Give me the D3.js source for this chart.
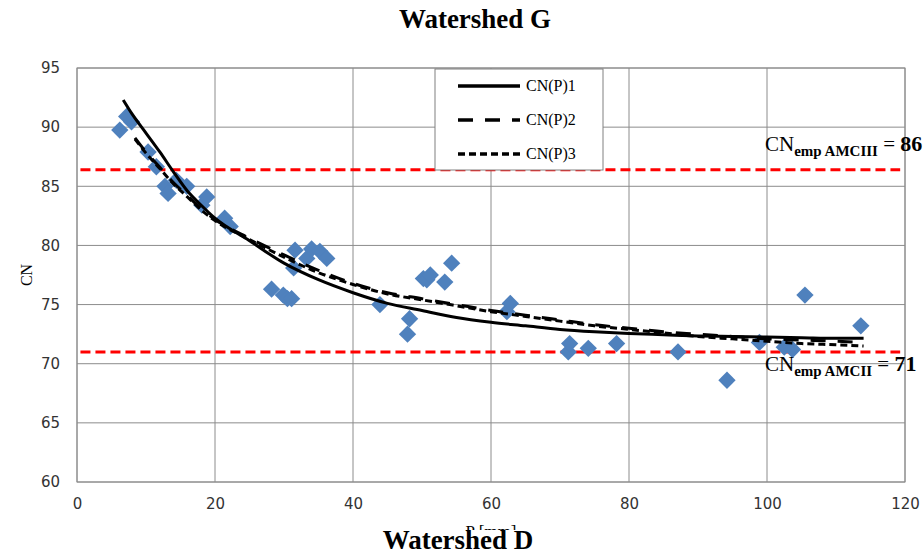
<!DOCTYPE html>
<html>
<head>
<meta charset="utf-8">
<script src="https://cdn.jsdelivr.net/npm/d3@7"></script>
<style>
  body { margin: 0; background: #fff; }
  .tick text { font-family: "DejaVu Sans", sans-serif; font-size: 15px; fill: #333; }
  .serif { font-family: "Liberation Serif", "Times New Roman", serif; }
</style>
</head>
<body>
<svg id="chart" width="924" height="553"></svg>
<script>
// observed points (P in mm, CN)
var obsP  = [6.2, 7.2, 7.9, 10.3, 11.5, 12.75, 13.2, 14.4, 15.9, 18.1, 18.8, 21.4, 22.2,
             28.2, 29.9, 30.5, 31.1, 31.4, 31.6, 33.3, 34.0, 35.2, 36.2, 43.9, 47.9, 48.2,
             50.2, 50.7, 51.2, 53.3, 54.3, 62.3, 62.8, 71.2, 71.4, 74.1, 78.2, 87.1, 94.2,
             98.9, 102.5, 103.7, 105.5, 113.6];
var obsCN = [89.75, 90.9, 90.45, 87.9, 86.65, 85.0, 84.4, 85.5, 85.0, 83.4, 84.1, 82.3, 81.6,
             76.3, 75.8, 75.5, 75.5, 78.1, 79.6, 78.9, 79.7, 79.5, 78.9, 75.0, 72.5, 73.8,
             77.2, 77.1, 77.5, 76.9, 78.5, 74.4, 75.1, 71.0, 71.7, 71.3, 71.7, 71.0, 68.6,
             71.8, 71.4, 71.2, 75.8, 73.2];

// fitted curves
var curveP1  = [6.7, 8, 10, 12, 14, 16, 18, 20, 25, 30, 35, 40, 45, 50, 55, 60, 65, 70, 75,
                80, 85, 90, 95, 100, 105, 110, 114];
var curveCN1 = [92.3, 91.1, 89.5, 87.9, 86.2, 84.6, 83.4, 82.3, 80.4, 78.5, 77.1, 76.0, 75.1,
                74.5, 73.9, 73.5, 73.2, 72.9, 72.7, 72.55, 72.45, 72.35, 72.3, 72.25, 72.2,
                72.15, 72.15];
var curveP23 = [8.4, 10, 12, 14, 16, 18, 20, 25, 30, 35, 40, 45, 50, 55, 60, 65, 70, 75, 80,
                85, 90, 95, 100, 105, 110, 114];
var curveCN2 = [89.1, 87.9, 86.6, 85.3, 84.2, 83.1, 82.2, 80.6, 79.2, 77.9, 76.8, 76.0, 75.5,
                75.0, 74.5, 74.1, 73.7, 73.3, 73.0, 72.7, 72.5, 72.3, 72.1, 72.0, 71.9, 71.8];
var curveCN3 = [89.0, 87.8, 86.5, 85.2, 84.1, 83.0, 82.1, 80.5, 79.0, 77.7, 76.7, 75.9, 75.4,
                74.9, 74.4, 74.0, 73.6, 73.2, 72.9, 72.6, 72.3, 72.1, 71.9, 71.7, 71.6, 71.5];

var cnAmc3 = 86.4, cnAmc2 = 71;
var labelAmc3 = '86', labelAmc2 = '71';

var xTicks = [0, 20, 40, 60, 80, 100, 120];
var yTicks = [60, 65, 70, 75, 80, 85, 90, 95];
var seriesNames = ['CN(P)1', 'CN(P)2', 'CN(P)3'];
var seriesDash = [null, '15,12', '7,4'];

var svg = d3.select('#chart');
var plotL = 77, plotR = 905, plotT = 68, plotB = 482;

var x = d3.scaleLinear().domain([0, 120]).range([plotL, plotR]);
var y = d3.scaleLinear().domain([60, 95]).range([plotB, plotT]);

// grid
svg.append('g')
  .selectAll('line')
  .data(xTicks)
  .enter().append('line')
  .attr('x1', function(d) { return x(d); })
  .attr('x2', function(d) { return x(d); })
  .attr('y1', plotT).attr('y2', plotB)
  .attr('stroke', '#8c8c8c').attr('stroke-width', 1);

svg.append('g')
  .selectAll('line')
  .data(yTicks)
  .enter().append('line')
  .attr('x1', plotL).attr('x2', plotR)
  .attr('y1', function(d) { return y(d); })
  .attr('y2', function(d) { return y(d); })
  .attr('stroke', '#8c8c8c').attr('stroke-width', 1);

// axes (labels only)
svg.append('g')
  .attr('transform', 'translate(0,' + plotB + ')')
  .call(d3.axisBottom(x).tickValues(xTicks).tickSize(0).tickPadding(16))
  .call(function(g) { g.select('.domain').remove(); });

svg.append('g')
  .attr('transform', 'translate(' + plotL + ',0)')
  .call(d3.axisLeft(y).tickValues(yTicks).tickSize(0).tickPadding(17))
  .call(function(g) { g.select('.domain').remove(); });

// red empirical lines
[cnAmc3, cnAmc2].forEach(function(v) {
  svg.append('line')
    .attr('x1', x(0.5)).attr('x2', x(119.3))
    .attr('y1', y(v)).attr('y2', y(v))
    .attr('stroke', '#ff0000').attr('stroke-width', 3)
    .attr('stroke-dasharray', '10,5');
});

// points
var diamond = d3.symbol().type(d3.symbolSquare).size(150);
svg.append('g')
  .selectAll('path')
  .data(obsP)
  .enter().append('path')
  .attr('d', diamond)
  .attr('transform', function(d, i) {
    return 'translate(' + x(d) + ',' + y(obsCN[i]) + ') rotate(45)';
  })
  .attr('fill', '#4f81bd');

// curves
var line = d3.line().curve(d3.curveMonotoneX);
function drawCurve(ps, cns, dash) {
  svg.append('path')
    .datum(ps.map(function(p, i) { return [x(p), y(cns[i])]; }))
    .attr('d', line)
    .attr('fill', 'none')
    .attr('stroke', '#000')
    .attr('stroke-width', 3)
    .attr('stroke-dasharray', dash);
}
drawCurve(curveP1, curveCN1, seriesDash[0]);
drawCurve(curveP23, curveCN2, seriesDash[1]);
drawCurve(curveP23, curveCN3, seriesDash[2]);

// plot border
svg.append('rect')
  .attr('x', plotL).attr('y', plotT)
  .attr('width', plotR - plotL).attr('height', plotB - plotT)
  .attr('fill', 'none').attr('stroke', '#8c8c8c');

// legend
var lg = svg.append('g');
lg.append('rect')
  .attr('x', 435).attr('y', 69).attr('width', 168).attr('height', 101)
  .attr('fill', '#fff').attr('stroke', '#808080');
seriesNames.forEach(function(name, i) {
  var ly = 86 + i * 34;
  lg.append('line')
    .attr('x1', 458).attr('x2', 520).attr('y1', ly).attr('y2', ly)
    .attr('stroke', '#000').attr('stroke-width', 3.5)
    .attr('stroke-dasharray', seriesDash[i]);
  lg.append('text')
    .attr('class', 'serif')
    .attr('x', 526).attr('y', ly + 5)
    .attr('font-size', 16)
    .text(name);
});

// annotations
function annot(sub, val, baseY) {
  var t = svg.append('text').attr('class', 'serif').attr('x', 765).attr('y', baseY).attr('font-size', 21);
  t.append('tspan').text('CN');
  t.append('tspan').attr('font-size', 15).attr('font-weight', 'bold').attr('dy', 5).text(sub);
  t.append('tspan').attr('dy', -5).text(' = ');
  t.append('tspan').attr('font-weight', 'bold').attr('font-size', 22).text(val);
}
annot('emp AMCIII', labelAmc3, y(cnAmc3) - 19);
annot('emp AMCII', labelAmc2, y(cnAmc2) + 19);

// axis titles
svg.append('text')
  .attr('class', 'serif')
  .attr('transform', 'translate(32,' + ((plotT + plotB) / 2) + ') rotate(-90)')
  .attr('text-anchor', 'middle')
  .attr('font-size', 16)
  .text('CN');

// x title is partly hidden by the second title, as in the source image
svg.append('clipPath').attr('id', 'xtclip')
  .append('rect').attr('x', 0).attr('y', 500).attr('width', 924).attr('height', 30);
svg.append('text')
  .attr('class', 'serif')
  .attr('clip-path', 'url(#xtclip)')
  .attr('x', (plotL + plotR) / 2).attr('y', 537)
  .attr('text-anchor', 'middle')
  .attr('font-size', 17)
  .text('P [mm]');

// titles
svg.append('text')
  .attr('class', 'serif')
  .attr('x', 475).attr('y', 28)
  .attr('text-anchor', 'middle')
  .attr('font-size', 27).attr('font-weight', 'bold')
  .text('Watershed G');

svg.append('text')
  .attr('class', 'serif')
  .attr('x', 458).attr('y', 549)
  .attr('text-anchor', 'middle')
  .attr('font-size', 27).attr('font-weight', 'bold')
  .text('Watershed D');
</script>
</body>
</html>
